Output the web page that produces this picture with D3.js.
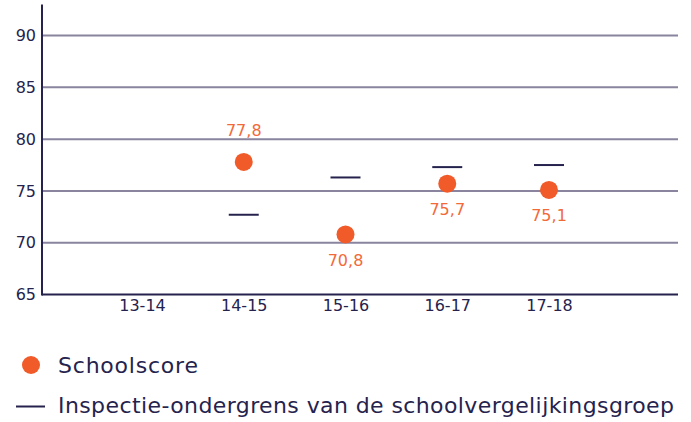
<!DOCTYPE html>
<html>
<head>
<meta charset="utf-8">
<script src="https://cdn.jsdelivr.net/npm/d3@7"></script>
<style>
  html, body { margin: 0; padding: 0; background: #fff; }
  svg { display: block; font-family: "DejaVu Sans", sans-serif; }
</style>
</head>
<body>
<div id="graph"></div>
<script>
// Schooljaren en waarden
const categories = ["13-14", "14-15", "15-16", "16-17", "17-18"];
const schoolScore = [null, 77.8, 70.8, 75.7, 75.1];
const ondergrens = [null, 72.7, 76.3, 77.3, 77.5];
const yTicks = [65, 70, 75, 80, 85, 90];
const legendLabels = ["Schoolscore", "Inspectie-ondergrens van de schoolvergelijkingsgroep"];

const width = 691;
const height = 422;
const marginLeft = 42;
const plotRight = 678;
const plotTop = 4.5;
const plotBottom = 294.5;

const navy = "#25234d";
const grid = "#8a849e";
const orange = "#f15a29";
const labelOrange = "#f2693a";
const font = "'DejaVu Sans', sans-serif";

const nl = d3.formatLocale({ decimal: ",", thousands: ".", grouping: [3], currency: ["€", ""] });
const fmt = nl.format(".1f");

const data = categories.map((c, i) => ({ cat: c, score: schoolScore[i], limit: ondergrens[i] }));

const x = d3.scalePoint()
    .domain(categories)
    .range([142, 549]);

const y = d3.scaleLinear()
    .domain([65, 93])
    .range([plotBottom, plotTop]);

const svg = d3.create("svg")
    .attr("width", width)
    .attr("height", height);

// rasterlijnen
svg.append("g")
    .selectAll("line")
    .data(yTicks.filter(t => t > 65))
    .join("line")
    .attr("x1", marginLeft)
    .attr("x2", plotRight)
    .attr("y1", d => y(d))
    .attr("y2", d => y(d))
    .attr("stroke", grid)
    .attr("stroke-width", 2);

// y-as
const yAxis = svg.append("g")
    .attr("transform", `translate(${marginLeft},0)`)
    .call(d3.axisLeft(y).tickValues(yTicks).tickSize(0).tickPadding(6));
yAxis.select(".domain").remove();
yAxis.selectAll("text")
    .attr("fill", navy)
    .style("font-size", "16px")
    .style("font-family", font);

svg.append("line")
    .attr("x1", marginLeft).attr("x2", marginLeft)
    .attr("y1", plotTop).attr("y2", plotBottom + 1)
    .attr("stroke", navy)
    .attr("stroke-width", 2);

// x-as
const xAxis = svg.append("g")
    .attr("transform", `translate(0,${plotBottom})`)
    .call(d3.axisBottom(x).tickSize(0).tickPadding(5));
xAxis.select(".domain")
    .attr("d", `M${marginLeft},0H${plotRight}`)
    .attr("stroke", navy)
    .attr("stroke-width", 2);
xAxis.selectAll("text")
    .attr("fill", navy)
    .style("font-size", "16px")
    .style("font-family", font);

// ondergrens streepjes
svg.append("g")
    .selectAll("line")
    .data(data.filter(d => d.limit != null))
    .join("line")
    .attr("x1", d => x(d.cat) - 15)
    .attr("x2", d => x(d.cat) + 15)
    .attr("y1", d => y(d.limit))
    .attr("y2", d => y(d.limit))
    .attr("stroke", navy)
    .attr("stroke-width", 2);

// schoolscore punten
svg.append("g")
    .selectAll("circle")
    .data(data.filter(d => d.score != null))
    .join("circle")
    .attr("cx", d => x(d.cat))
    .attr("cy", d => y(d.score))
    .attr("r", 9)
    .attr("fill", orange);

// labels: boven als score boven ondergrens ligt, anders onder
svg.append("g")
    .selectAll("text")
    .data(data.filter(d => d.score != null))
    .join("text")
    .attr("x", d => x(d.cat))
    .attr("y", d => y(d.score) + (d.score > d.limit ? -31 : 26))
    .attr("text-anchor", "middle")
    .attr("dominant-baseline", "central")
    .attr("fill", labelOrange)
    .style("font-size", "16px")
    .text(d => fmt(d.score));

// legenda
const legend = svg.append("g");
legend.append("circle")
    .attr("cx", 31).attr("cy", 365).attr("r", 9)
    .attr("fill", orange);
legend.append("line")
    .attr("x1", 16).attr("x2", 45)
    .attr("y1", 406.5).attr("y2", 406.5)
    .attr("stroke", navy).attr("stroke-width", 2);
legend.selectAll("text")
    .data(legendLabels)
    .join("text")
    .attr("x", 58)
    .attr("y", (d, i) => 373 + i * 40)
    .attr("fill", navy)
    .style("font-size", "22px")
    .attr("textLength", (d, i) => i === 0 ? 140 : 616)
    .attr("lengthAdjust", "spacing")
    .text(d => d);

document.getElementById("graph").appendChild(svg.node());
</script>
</body>
</html>
